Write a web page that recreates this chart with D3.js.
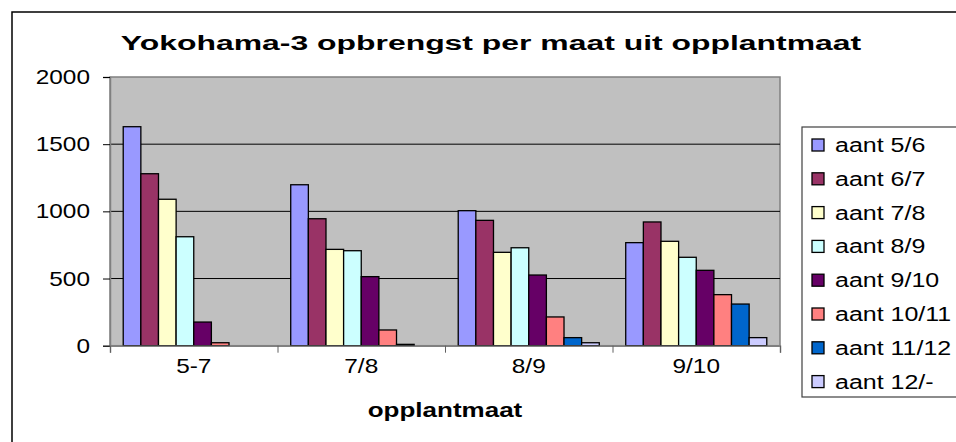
<!DOCTYPE html>
<html>
<head>
<meta charset="utf-8">
<script src="https://cdn.jsdelivr.net/npm/d3@7"></script>
<style>
  html, body { margin: 0; padding: 0; background: #fff; }
  svg { display: block; }
  text { font-family: Arial, "Liberation Sans", sans-serif; fill: #000; }
</style>
</head>
<body>
<svg id="chart" width="956" height="442"></svg>
<script>
// ---- data ----
const categories = ["5-7", "7/8", "8/9", "9/10"];
const seriesNames = ["aant 5/6", "aant 6/7", "aant 7/8", "aant 8/9", "aant 9/10", "aant 10/11", "aant 11/12", "aant 12/-"];
const seriesColors = ["#9999FF", "#993366", "#FFFFCC", "#CCFFFF", "#660066", "#FF8080", "#0066CC", "#CCCCFF"];
// values per series, one per category
const s56   = [1630, 1198, 1005, 767];
const s67   = [1280, 945, 933, 921];
const s78   = [1090, 717, 695, 777];
const s89   = [811, 707, 729, 658];
const s910  = [176, 514, 526, 561];
const s1011 = [22, 117, 214, 380];
const s1112 = [0, 10, 60, 310];
const s12   = [0, 0, 22, 60];
const yTicks = [0, 500, 1000, 1500, 2000];
const titleText = "Yokohama-3 opbrengst per maat uit opplantmaat";
const xTitle = "opplantmaat";

const allSeries = [s56, s67, s78, s89, s910, s1011, s1112, s12];

// ---- layout ----
const svg = d3.select("#chart");
const plot = { left: 110, right: 780, top: 77, bottom: 345.7 };
const SX = 1.22; // horizontal stretch of the original rendering

// outer frame
svg.append("rect").attr("x", 12).attr("y", 12).attr("width", 1000).attr("height", 500)
  .attr("fill", "#fff").attr("stroke", "#000").attr("stroke-width", 1.5);

const x0 = d3.scaleBand().domain(categories).range([plot.left, plot.right]);
// gap width 150%: bar width = band / 9.5, outer offset 0.75 bar
const barW = x0.bandwidth() / 9.5;
const x1 = d3.scaleBand().domain(d3.range(seriesNames.length))
  .range([0.75 * barW, 0.75 * barW + 8 * barW]);

const y = d3.scaleLinear().domain([0, 2000]).range([plot.bottom, plot.top]);

// plot background
svg.append("rect").attr("x", plot.left).attr("y", plot.top)
  .attr("width", plot.right - plot.left).attr("height", plot.bottom - plot.top)
  .attr("fill", "#C0C0C0").attr("stroke", "#808080").attr("stroke-width", 1.5);

// gridlines
svg.append("g").selectAll("line").data(yTicks.filter(d => d > 0 && d < 2000)).join("line")
  .attr("x1", plot.left).attr("x2", plot.right)
  .attr("y1", d => y(d)).attr("y2", d => y(d))
  .attr("stroke", "#000").attr("stroke-width", 1);

// bars
const gCat = svg.append("g").selectAll("g").data(categories).join("g")
  .attr("transform", d => `translate(${x0(d)},0)`);
gCat.selectAll("rect").data((c, ci) => allSeries.map((s, si) => ({ si, v: s[ci] }))).join("rect")
  .attr("x", d => x1(d.si))
  .attr("width", x1.bandwidth())
  .attr("y", d => y(d.v))
  .attr("height", d => y(0) - y(d.v))
  .attr("fill", d => seriesColors[d.si])
  .attr("stroke", "#000").attr("stroke-width", 1.3)
  .attr("display", d => d.v > 0 ? null : "none");

// y axis
const yAxis = d3.axisLeft(y).tickValues(yTicks).tickSize(7).tickFormat("");
const gy = svg.append("g").attr("transform", `translate(${plot.left},0)`).call(yAxis);
gy.select(".domain").attr("stroke", "#808080").attr("stroke-width", 1.5);
gy.selectAll(".tick line").attr("stroke", "#000");
svg.append("g").selectAll("text").data(yTicks).join("text")
  .attr("transform", d => `translate(90,${y(d)}) scale(${SX},1)`)
  .attr("dy", "0.35em").attr("text-anchor", "end")
  .style("font-size", "20px").text(d => d);

// x axis
const xAxis = d3.axisBottom(d3.scaleLinear().domain([0, 4]).range([plot.left, plot.right]))
  .tickValues([0, 1, 2, 3, 4]).tickSize(7).tickFormat("");
const gx = svg.append("g").attr("transform", `translate(0,${plot.bottom})`).call(xAxis);
gx.select(".domain").attr("stroke", "#808080").attr("stroke-width", 1.5);
gx.selectAll(".tick line").attr("stroke", "#606060");
svg.append("g").selectAll("text").data(categories).join("text")
  .attr("transform", d => `translate(${x0(d) + x0.bandwidth() / 2},373) scale(${SX},1)`)
  .attr("text-anchor", "middle").style("font-size", "20px").text(d => d);

// axis title
svg.append("text")
  .attr("transform", `translate(${(plot.left + plot.right) / 2},417) scale(1.3,1)`)
  .attr("text-anchor", "middle").style("font-size", "20px").style("font-weight", "bold")
  .text(xTitle);

// chart title
svg.append("text")
  .attr("transform", `translate(491,50) scale(1.52,1)`)
  .attr("text-anchor", "middle").style("font-size", "21px").style("font-weight", "bold")
  .text(titleText);

// legend
const leg = { x: 802, y: 127, w: 200, h: 270, first: 145, step: 33.8 };
svg.append("rect").attr("x", leg.x).attr("y", leg.y).attr("width", leg.w).attr("height", leg.h)
  .attr("fill", "#fff").attr("stroke", "#404040").attr("stroke-width", 1.2);
const li = svg.append("g").selectAll("g").data(seriesNames).join("g")
  .attr("transform", (d, i) => `translate(0,${leg.first + i * leg.step})`);
li.append("rect").attr("x", 812).attr("y", -6).attr("width", 12).attr("height", 12)
  .attr("fill", (d, i) => seriesColors[i]).attr("stroke", "#000").attr("stroke-width", 1.3);
li.append("text").attr("transform", `translate(835,0) scale(1.25,1)`).attr("dy", "0.35em")
  .style("font-size", "20px").text(d => d);
</script>
</body>
</html>
